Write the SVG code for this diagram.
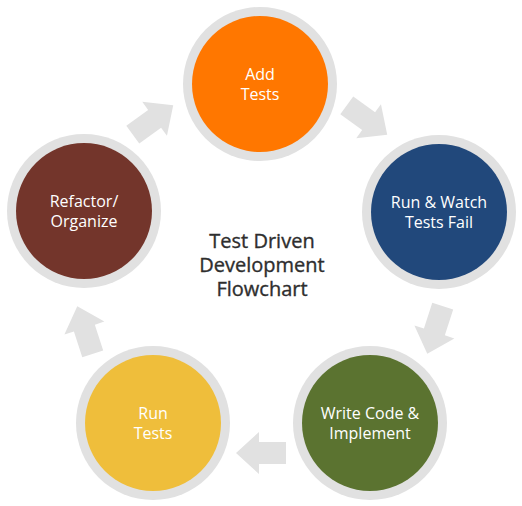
<svg xmlns="http://www.w3.org/2000/svg" width="522" height="506" viewBox="0 0 522 506">
<style>
.ring{fill:#e1e1e1}
.lbl{font-family:"Open Sans","Noto Sans",sans-serif;font-size:16px;fill:#ffffff;text-anchor:middle}
.title{font-family:"Open Sans","Noto Sans",sans-serif;font-size:20px;fill:#2e2e2e;stroke:#2e2e2e;stroke-width:0.35;text-anchor:middle}
.arr{fill:#e1e1e1}
</style>
<defs>
<path id="arrow" d="M-25,-11 L2,-11 L2,-21 L25,0 L2,21 L2,11 L-25,11 Z"/>
</defs>
<rect width="522" height="506" fill="#ffffff"/>
<g id="connectors">
<use href="#arrow" class="arr" transform="translate(153,120) rotate(-36)"/>
<use href="#arrow" class="arr" transform="translate(367,120) rotate(36)"/>
<use href="#arrow" class="arr" transform="translate(435,330) rotate(108)"/>
<use href="#arrow" class="arr" transform="translate(261,453) rotate(180)"/>
<use href="#arrow" class="arr" transform="translate(85,330) rotate(252)"/>
</g>
<g id="add-tests">
<circle class="ring" cx="260" cy="84" r="77"/>
<circle cx="260" cy="84" r="68" fill="#ff7700"/>
<text class="lbl" x="260" y="80">Add</text>
<text class="lbl" x="260" y="100">Tests</text>
</g>
<g id="run-watch">
<circle class="ring" cx="439" cy="212" r="77"/>
<circle cx="439" cy="212" r="68" fill="#21487b"/>
<text class="lbl" x="439" y="208">Run &amp; Watch</text>
<text class="lbl" x="439" y="228">Tests Fail</text>
</g>
<g id="write-code">
<circle class="ring" cx="370" cy="423" r="77"/>
<circle cx="370" cy="423" r="68" fill="#5b7330"/>
<text class="lbl" x="370" y="419">Write Code &amp;</text>
<text class="lbl" x="370" y="439">Implement</text>
</g>
<g id="run-tests">
<circle class="ring" cx="153" cy="423" r="77"/>
<circle cx="153" cy="423" r="68" fill="#efbe3b"/>
<text class="lbl" x="153" y="419">Run</text>
<text class="lbl" x="153" y="439">Tests</text>
</g>
<g id="refactor">
<circle class="ring" cx="84" cy="211" r="77"/>
<circle cx="84" cy="211" r="68" fill="#73352b"/>
<text class="lbl" x="84" y="207">Refactor/</text>
<text class="lbl" x="84" y="227">Organize</text>
</g>
<g id="title">
<text class="title" x="262" y="248">Test Driven</text>
<text class="title" x="262" y="272">Development</text>
<text class="title" x="262" y="296">Flowchart</text>
</g>
</svg>
